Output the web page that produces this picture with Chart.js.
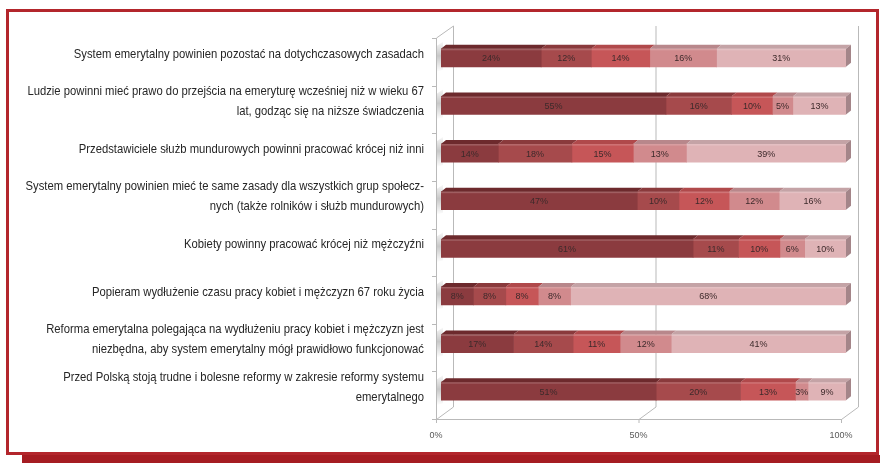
<!DOCTYPE html>
<html lang="pl">
<head>
<meta charset="utf-8">
<script src="https://cdn.jsdelivr.net/npm/chart.js@4"></script>
<style>
  html, body { margin: 0; padding: 0; background: #fff; }
  #wrap { position: relative; width: 880px; height: 463px; overflow: hidden; }
  .frame { position: absolute; left: 6px; top: 9px; width: 867px; height: 440px; border: 3px solid #b3262c; }
  .band { position: absolute; left: 22px; top: 455px; width: 858px; height: 8px; background: #a51c22; }
  #chart { position: absolute; left: 0; top: 0; }
</style>
</head>
<body>
<div id="wrap">
  <div class="frame"></div>
  <div class="band"></div>
  <canvas id="chart" width="880" height="463"></canvas>
</div>
<script>
"use strict";

// ── dane ────────────────────────────────────────────────────────
const CATEGORIES = [
  ["System emerytalny powinien pozostać na dotychczasowych zasadach"],
  ["Ludzie powinni mieć prawo do przejścia na emeryturę wcześniej niż w wieku 67", "lat, godząc się na niższe świadczenia"],
  ["Przedstawiciele służb mundurowych powinni pracować krócej niż inni"],
  ["System emerytalny powinien mieć te same zasady dla wszystkich grup społecz-", "nych (także rolników i służb mundurowych)"],
  ["Kobiety powinny pracować krócej niż mężczyźni"],
  ["Popieram wydłużenie czasu pracy kobiet i mężczyzn 67 roku życia"],
  ["Reforma emerytalna polegająca na wydłużeniu pracy kobiet i mężczyzn jest", "niezbędna, aby system emerytalny mógł prawidłowo funkcjonować"],
  ["Przed Polską stoją trudne i bolesne reformy w zakresie reformy systemu", "emerytalnego"],
];
const SERIES_1 = [24, 55, 14, 47, 61, 8, 17, 51];
const SERIES_2 = [12, 16, 18, 10, 11, 8, 14, 20];
const SERIES_3 = [14, 10, 15, 12, 10, 8, 11, 13];
const SERIES_4 = [16, 5, 13, 12, 6, 8, 12, 3];
const SERIES_5 = [31, 13, 39, 16, 10, 68, 41, 9];
const X_TICKS = [0, 50, 100];

const SERIES = [SERIES_1, SERIES_2, SERIES_3, SERIES_4, SERIES_5];
// przód / wierzch / bok słupka
const FRONT = ["#8b3b3f", "#a64a4c", "#c65658", "#d18a8d", "#dfb3b6"];
const TOP = ["#6d2a2d", "#8a3a3c", "#b0494b", "#b8878b", "#c4a3a6"];
const SIDE = "#a48589";

const WALL = { x: 17, y: -12 };  // głębia wykresu 3D
const BAR = { x: 5, y: -4 };     // głębia słupka
const SHIFT = -5;                // przednia płaszczyzna względem słupków
const LABEL_RIGHT = 424;         // prawa krawędź opisów kategorii
const LABEL_SQUEEZE = 0.835;     // zwężenie kroju (brak wersji condensed)

// wykres 100%: każdy wiersz skalowany do sumy
const totals = CATEGORIES.map((_, i) => SERIES.reduce((s, arr) => s + arr[i], 0));

const datasets = SERIES.map((arr, k) => ({
  label: `s${k + 1}`,
  data: arr.map((v, i) => (v / totals[i]) * 100),
  raw: arr,
  backgroundColor: FRONT[k],
  borderWidth: 0,
  barThickness: 18,
}));

function line(ctx, x1, y1, x2, y2) {
  ctx.beginPath();
  ctx.moveTo(x1, y1);
  ctx.lineTo(x2, y2);
  ctx.stroke();
}

// ściany, podłoga, siatka i opisy kategorii
const walls = {
  id: "walls",
  beforeDatasetsDraw(chart) {
    const { ctx, chartArea: a, scales } = chart;
    const xs = scales.x, ys = scales.y;
    const floor = a.bottom + 4;
    const top = a.top + 4;
    const f0 = xs.getPixelForValue(0) + SHIFT;
    const f100 = xs.getPixelForValue(100) + SHIFT;
    ctx.save();
    ctx.lineWidth = 1;

    // cień słupków na lewej ścianie
    CATEGORIES.forEach((_, i) => {
      const y = ys.getPixelForValue(i);
      const g = ctx.createLinearGradient(0, y - 18, 0, y + 14);
      g.addColorStop(0, "rgba(0,0,0,0)");
      g.addColorStop(0.5, "rgba(0,0,0,0.22)");
      g.addColorStop(1, "rgba(0,0,0,0)");
      ctx.fillStyle = g;
      ctx.beginPath();
      ctx.moveTo(f0 + 1, y - 12);
      ctx.lineTo(f0 + 7, y - 16);
      ctx.lineTo(f0 + 7, y + 12);
      ctx.lineTo(f0 + 1, y + 14);
      ctx.closePath();
      ctx.fill();
    });

    ctx.strokeStyle = "#b9b9b9";
    for (const v of X_TICKS) {
      const fx = xs.getPixelForValue(v) + SHIFT + 0.5;
      line(ctx, fx + WALL.x, floor + WALL.y, fx + WALL.x, top + WALL.y);
      line(ctx, fx, floor + 0.5, fx + WALL.x, floor + WALL.y);
      line(ctx, fx, floor, fx, floor + 4);
    }
    line(ctx, f0, floor + 0.5, f100, floor + 0.5);
    line(ctx, f0 + 0.5, floor, f0 + 0.5, top);
    line(ctx, f0 + 0.5, top, f0 + 0.5 + WALL.x, top + WALL.y);

    // znaczniki kategorii
    const band = (a.bottom - a.top) / CATEGORIES.length;
    for (let i = 0; i <= CATEGORIES.length; i++) {
      const y = Math.round(a.top + i * band + 4) + 0.5;
      line(ctx, f0 - 4, y, f0, y);
    }

    // opisy kategorii, wyrównane do prawej
    ctx.fillStyle = "#262626";
    ctx.font = "13.5px 'Liberation Sans', Arial, sans-serif";
    ctx.textAlign = "right";
    ctx.textBaseline = "middle";
    CATEGORIES.forEach((lines, i) => {
      const y = ys.getPixelForValue(i) - 4;
      lines.forEach((txt, j) => {
        ctx.save();
        ctx.translate(LABEL_RIGHT, y + (j - (lines.length - 1) / 2) * 20);
        ctx.scale(LABEL_SQUEEZE, 1);
        ctx.fillText(txt, 0, 0);
        ctx.restore();
      });
    });
    ctx.restore();
  },
  afterDatasetsDraw(chart) {
    const { ctx } = chart;
    const last = chart.data.datasets.length - 1;
    ctx.save();
    chart.data.datasets.forEach((ds, k) => {
      const meta = chart.getDatasetMeta(k);
      meta.data.forEach((el, i) => {
        const left = Math.min(el.x, el.base), right = Math.max(el.x, el.base);
        const t = el.y - el.height / 2, b = el.y + el.height / 2;
        // wierzch
        ctx.fillStyle = TOP[k];
        ctx.beginPath();
        ctx.moveTo(left, t);
        ctx.lineTo(right, t);
        ctx.lineTo(right + BAR.x, t + BAR.y);
        ctx.lineTo(left + BAR.x, t + BAR.y);
        ctx.closePath();
        ctx.fill();
        ctx.fillStyle = "rgba(255,255,255,0.18)";
        ctx.fillRect(left, t, right - left, 1.5);
        if (k === last) {
          ctx.fillStyle = SIDE;
          ctx.beginPath();
          ctx.moveTo(right, t);
          ctx.lineTo(right + BAR.x, t + BAR.y);
          ctx.lineTo(right + BAR.x, b + BAR.y);
          ctx.lineTo(right, b);
          ctx.closePath();
          ctx.fill();
        }
        // etykieta wartości
        ctx.fillStyle = "#3d2a2b";
        ctx.font = "9px 'Liberation Sans', Arial, sans-serif";
        ctx.textAlign = "center";
        ctx.textBaseline = "middle";
        ctx.fillText(`${ds.raw[i]}%`, (left + right) / 2, el.y + 1);
      });
    });
    ctx.restore();
  },
};

new Chart(document.getElementById("chart"), {
  type: "bar",
  data: { labels: CATEGORIES, datasets },
  options: {
    indexAxis: "y",
    responsive: false,
    devicePixelRatio: 1,
    animation: false,
    layout: { padding: { top: 34, right: 34, bottom: 18, left: 0 } },
    plugins: { legend: { display: false }, tooltip: { enabled: false } },
    scales: {
      x: {
        stacked: true,
        min: 0,
        max: 100,
        afterBuildTicks: (s) => { s.ticks = X_TICKS.map((v) => ({ value: v })); },
        afterFit: (s) => { s.height = 30; s.paddingLeft = 0; s.paddingRight = 0; },
        grid: { display: false, drawTicks: false },
        border: { display: false },
        ticks: {
          autoSkip: false,
          maxRotation: 0,
          padding: 15,
          labelOffset: SHIFT,
          color: "#595959",
          font: { family: "'Liberation Sans', Arial, sans-serif", size: 9 },
          callback: (v) => `${v}%`,
        },
      },
      y: {
        stacked: true,
        afterFit: (s) => { s.width = 441; s.paddingTop = 0; s.paddingBottom = 0; },
        grid: { display: false, drawTicks: false },
        border: { display: false },
        ticks: { display: false },
      },
    },
  },
  plugins: [walls],
});
</script>
</body>
</html>
